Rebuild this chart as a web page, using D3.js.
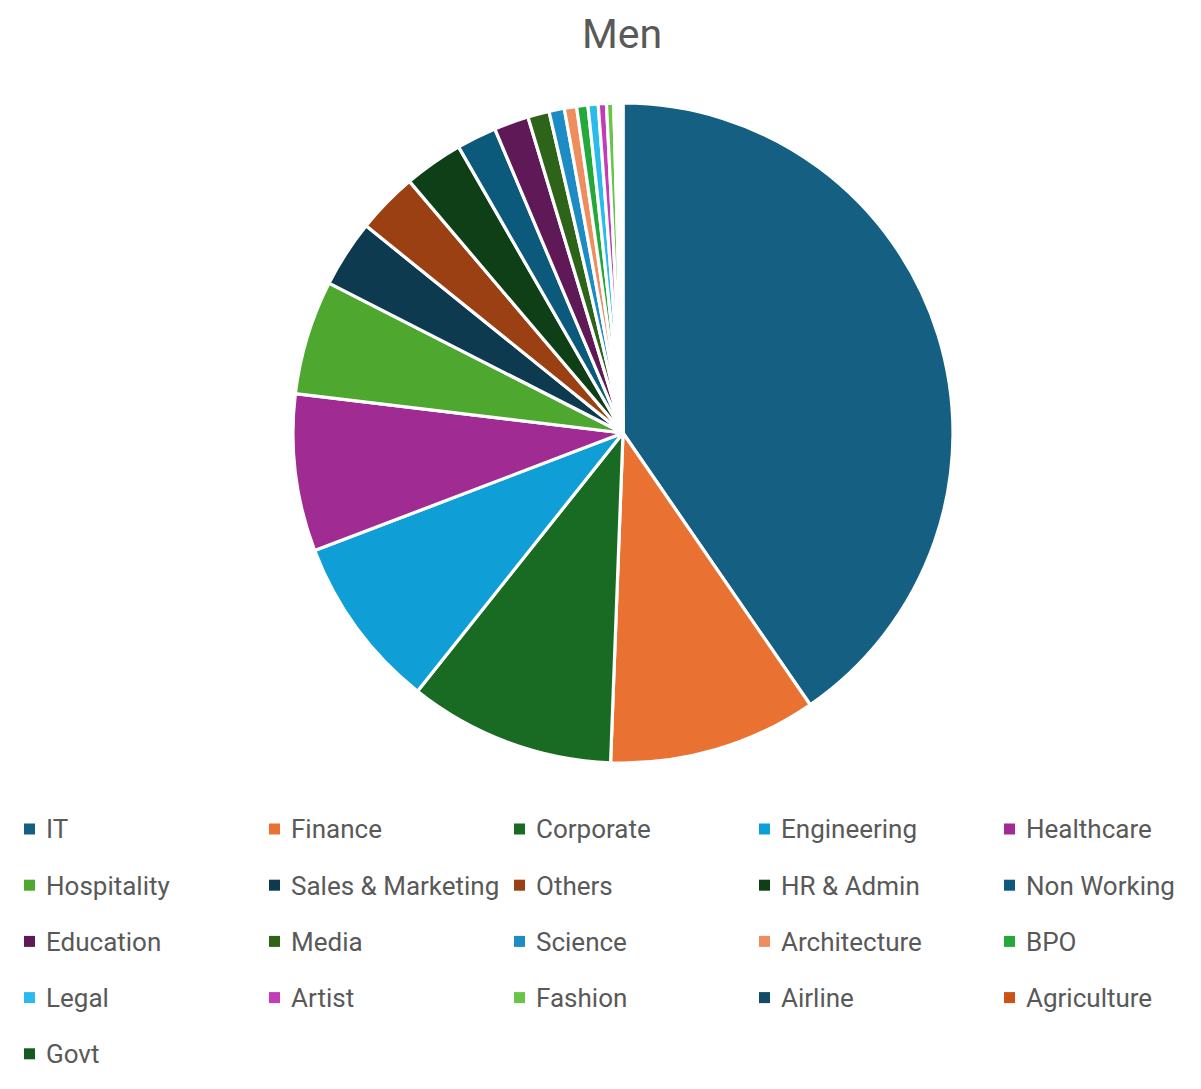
<!DOCTYPE html>
<html>
<head>
<meta charset="utf-8">
<script src="https://cdn.jsdelivr.net/npm/d3@7"></script>
<style>
  html, body { margin: 0; padding: 0; background: #ffffff; }
  svg { display: block; }
</style>
</head>
<body>
<svg id="chart" width="1201" height="1089"></svg>
<script>
const title = "Men";
const categories = ["IT", "Finance", "Corporate", "Engineering", "Healthcare", "Hospitality",
  "Sales & Marketing", "Others", "HR & Admin", "Non Working", "Education", "Media",
  "Science", "Architecture", "BPO", "Legal", "Artist", "Fashion", "Airline", "Agriculture", "Govt"];
const values = [40.4, 10.2, 10.1, 8.5, 7.7, 5.6, 3.3, 3.0, 2.9, 1.95, 1.7, 1.05,
  0.75, 0.6, 0.55, 0.5, 0.4, 0.35, 0.15, 0.15, 0.15];
const colors = ["#156082", "#E97132", "#196B24", "#0F9ED5", "#A02B93", "#4EA72E",
  "#0E3A4F", "#9A4013", "#0F3F17", "#0B5A7C", "#5F1956", "#2E6419",
  "#1D8CC5", "#EE8E5E", "#23A83A", "#2BBAEE", "#C43BB8", "#68C54A", "#124B68", "#C95416", "#155A1E"];

const data = categories.map((c, i) => ({ name: c, value: values[i], color: colors[i] }));

const svg = d3.select("#chart");
const cx = 623, cy = 433, r = 330;

svg.append("text")
  .attr("x", 622).attr("y", 48)
  .attr("text-anchor", "middle")
  .attr("font-family", "Roboto, 'Open Sans', sans-serif")
  .attr("font-size", 41)
  .attr("fill", "#595959")
  .text(title);

const pie = d3.pie().sort(null).value(d => d.value);
const arc = d3.arc().innerRadius(0).outerRadius(r);

svg.append("g")
  .attr("transform", `translate(${cx},${cy})`)
  .selectAll("path")
  .data(pie(data))
  .join("path")
  .attr("d", arc)
  .attr("fill", d => d.data.color)
  .attr("stroke", "#ffffff")
  .attr("stroke-width", 3.2)
  .attr("stroke-linejoin", "round");

// Legend
const colX = d3.scaleLinear().domain([0, 1]).range([24, 269]);
const rowY = d3.scaleLinear().domain([0, 1]).range([829, 885.2]);
const legend = svg.append("g")
  .selectAll("g")
  .data(data)
  .join("g")
  .attr("transform", (d, i) => `translate(${colX(i % 5)},${rowY(Math.floor(i / 5))})`);

legend.append("rect")
  .attr("x", 0).attr("y", -5.5)
  .attr("width", 11).attr("height", 11)
  .attr("fill", d => d.color);

legend.append("text")
  .attr("x", 22).attr("y", 0)
  .attr("dy", "0.36em")
  .attr("font-family", "Roboto, 'Open Sans', sans-serif")
  .attr("font-size", 26)
  .attr("fill", "#595959")
  .text(d => d.name);
</script>
</body>
</html>
